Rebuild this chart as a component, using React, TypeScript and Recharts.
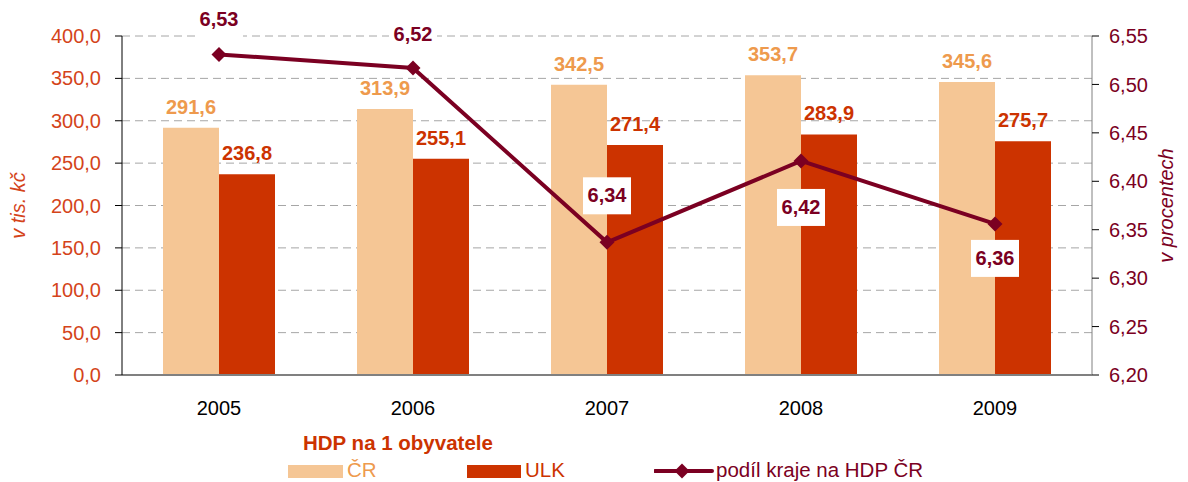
import React from "react";
import {
  ComposedChart,
  Bar,
  Line,
  XAxis,
  YAxis,
  CartesianGrid,
  LabelList,
} from "recharts";

const years = ["2005", "2006", "2007", "2008", "2009"];
const crValues = [291.6, 313.9, 342.5, 353.7, 345.6];
const ulkValues = [236.8, 255.1, 271.4, 283.9, 275.7];
const shareValues = [6.531, 6.517, 6.337, 6.421, 6.356];
const leftTicks = [0, 50, 100, 150, 200, 250, 300, 350, 400];
const rightTicks = [6.2, 6.25, 6.3, 6.35, 6.4, 6.45, 6.5, 6.55];

const data = years.map((y, i) => ({
  year: y,
  cr: crValues[i],
  ulk: ulkValues[i],
  share: shareValues[i],
}));

const FONT = "'Liberation Sans', Arial, sans-serif";
const C_CR = "#F5C695";
const C_ULK = "#CC3300";
const C_LINE = "#7B0022";
const C_CR_TXT = "#EE9A4D";
const C_LEFT_TXT = "#D4441A";
const FS = 20;
const FS_LEG = 20.5;

const fmt1 = (v: number) => v.toFixed(1).replace(".", ",");
const fmt2 = (v: number) => v.toFixed(2).replace(".", ",");

// vertical offset of each share label relative to its point (text centre)
const shareLabelOffset = [-35, -34, -47, 46, 34];

const ShareLabel = (props: any) => {
  const { x, y, value, index } = props;
  const cy = y + shareLabelOffset[index];
  return (
    <g>
      <rect x={x - 24} y={cy - 18} width={48} height={37} fill="#fff" />
      <text
        x={x}
        y={cy}
        textAnchor="middle"
        dominantBaseline="central"
        fontFamily={FONT}
        fontWeight="bold"
        fontSize={FS}
        fill={C_LINE}
      >
        {fmt2(value)}
      </text>
    </g>
  );
};

const Diamond = (props: any) => {
  const { cx, cy } = props;
  const r = 7.5;
  return (
    <path
      d={`M${cx},${cy - r} L${cx + r},${cy} L${cx},${cy + r} L${cx - r},${cy} Z`}
      fill={C_LINE}
    />
  );
};

export default function App() {
  return (
    <div style={{ position: "relative", width: 1172, height: 474 }}>
      <ComposedChart
        width={1172}
        height={420}
        data={data}
        margin={{ top: 28, right: 28, bottom: 13, left: 8 }}
        barGap={0}
      >
        <CartesianGrid
          yAxisId="left"
          vertical={false}
          stroke="#A6A6A6"
          strokeDasharray="8 5"
        />
        <XAxis
          dataKey="year"
          height={40}
          tickSize={0}
          tickMargin={26}
          tick={{ fill: "#000", fontSize: FS, fontFamily: FONT }}
          axisLine={{ stroke: "#808080", strokeWidth: 2 }}
          tickLine={false}
        />
        <YAxis
          yAxisId="left"
          width={106}
          domain={[0, 400]}
          ticks={leftTicks}
          tickFormatter={fmt1}
          tickSize={7}
          tickMargin={14}
          interval={0}
          tick={{ fill: C_LEFT_TXT, fontSize: FS, fontFamily: FONT }}
          axisLine={{ stroke: "#000" }}
          tickLine={{ stroke: "#000" }}
          label={{
            value: "v tis. kč",
            angle: -90,
            position: "insideLeft",
            offset: 2,
            style: {
              fill: C_LEFT_TXT,
              fontSize: FS,
              fontStyle: "italic",
              fontFamily: FONT,
              textAnchor: "middle",
            },
          }}
        />
        <YAxis
          yAxisId="right"
          orientation="right"
          width={60}
          domain={[6.2, 6.55]}
          ticks={rightTicks}
          tickFormatter={fmt2}
          tickSize={7}
          tickMargin={10}
          interval={0}
          tick={{ fill: C_LINE, fontSize: FS, fontFamily: FONT }}
          axisLine={{ stroke: "#808080" }}
          tickLine={{ stroke: "#000" }}
          label={{
            value: "v procentech",
            angle: -90,
            position: "insideRight",
            offset: -14,
            style: {
              fill: C_LINE,
              fontSize: FS,
              fontStyle: "italic",
              fontFamily: FONT,
              textAnchor: "middle",
            },
          }}
        />
        <Bar
          yAxisId="left"
          dataKey="cr"
          name="ČR"
          fill={C_CR}
          barSize={56}
          isAnimationActive={false}
        >
          <LabelList
            dataKey="cr"
            position="top"
            offset={14}
            formatter={(v: any) => fmt1(Number(v))}
            style={{
              fill: C_CR_TXT,
              fontSize: FS,
              fontWeight: "bold",
              fontFamily: FONT,
            }}
          />
        </Bar>
        <Bar
          yAxisId="left"
          dataKey="ulk"
          name="ULK"
          fill={C_ULK}
          barSize={56}
          isAnimationActive={false}
        >
          <LabelList
            dataKey="ulk"
            position="top"
            offset={14}
            formatter={(v: any) => fmt1(Number(v))}
            style={{
              fill: C_ULK,
              fontSize: FS,
              fontWeight: "bold",
              fontFamily: FONT,
            }}
          />
        </Bar>
        <Line
          yAxisId="right"
          dataKey="share"
          name="podíl kraje na HDP ČR"
          stroke={C_LINE}
          strokeWidth={4}
          dot={<Diamond />}
          activeDot={false}
          isAnimationActive={false}
        >
          <LabelList dataKey="share" content={<ShareLabel />} />
        </Line>
      </ComposedChart>
      <div
        style={{
          position: "absolute",
          left: 295,
          top: 423,
          fontFamily: FONT,
          fontSize: FS_LEG,
          fontWeight: "bold",
          color: C_ULK,
          whiteSpace: "nowrap",
          lineHeight: "24px",
        }}
      >
        HDP na 1 obyvatele
      </div>
      <div
        style={{
          position: "absolute",
          left: 280,
          top: 451,
          fontFamily: FONT,
          fontSize: FS_LEG,
          whiteSpace: "nowrap",
          lineHeight: "22px",
          height: 22,
        }}
      >
        <span style={{ position: "absolute", left: 0, top: 6, width: 55, height: 13, background: C_CR }} />
        <span style={{ position: "absolute", left: 59, top: 0, color: C_CR_TXT }}>ČR</span>
        <span style={{ position: "absolute", left: 179, top: 6, width: 54, height: 13, background: C_ULK }} />
        <span style={{ position: "absolute", left: 237, top: 0, color: C_ULK }}>ULK</span>
        <svg style={{ position: "absolute", left: 366, top: 2 }} width={60} height={20}>
          <line x1={1} y1={10} x2={58} y2={10} stroke={C_LINE} strokeWidth={4} strokeLinecap="round" />
          <path d="M28,2.5 L35.5,10 L28,17.5 L20.5,10 Z" fill={C_LINE} />
        </svg>
        <span style={{ position: "absolute", left: 428, top: 0, color: C_LINE }}>podíl kraje na HDP ČR</span>
      </div>
    </div>
  );
}
